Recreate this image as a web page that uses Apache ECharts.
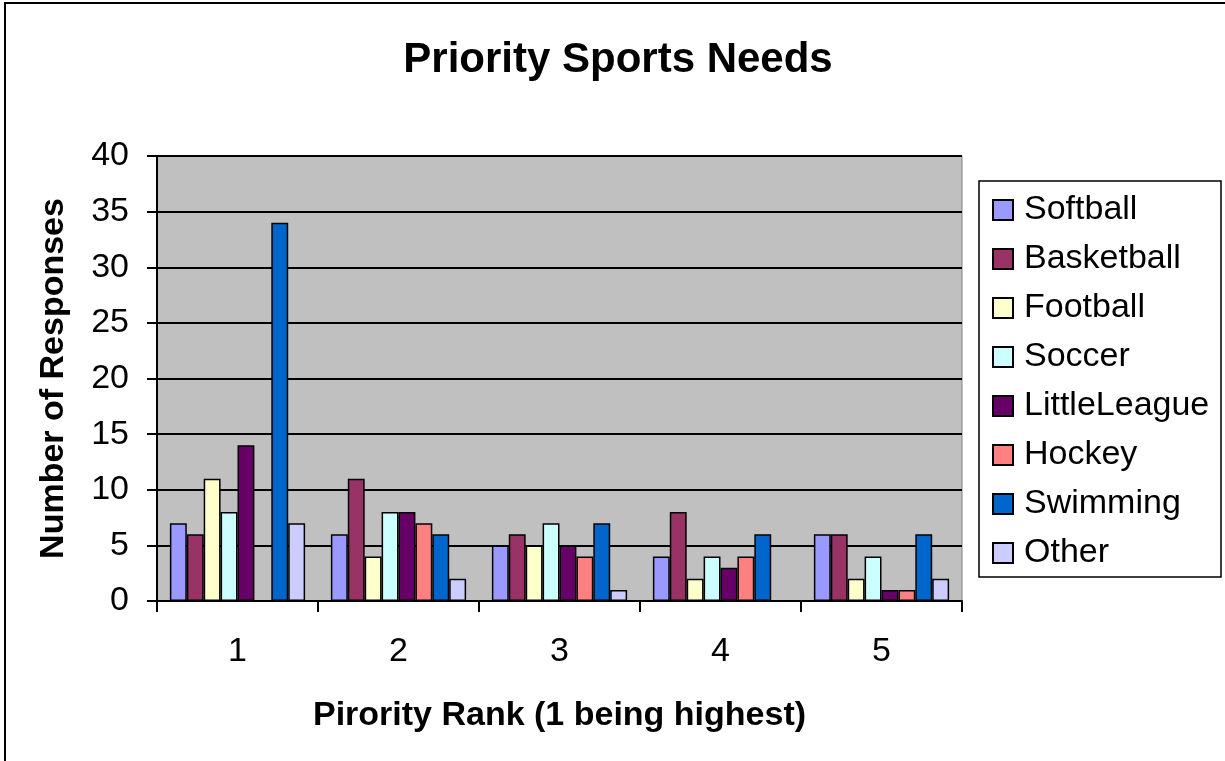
<!DOCTYPE html>
<html>
<head>
<meta charset="utf-8">
<script src="https://cdn.jsdelivr.net/npm/echarts@6/dist/echarts.min.js"></script>
<style>
html,body{margin:0;padding:0;background:#fff;}
#chart{width:1225px;height:761px;}
</style>
</head>
<body>
<div id="chart"></div>
<script>
var categories = ['1', '2', '3', '4', '5'];
var seriesNames = ['Softball', 'Basketball', 'Football', 'Soccer', 'LittleLeague', 'Hockey', 'Swimming', 'Other'];
var softball = [7, 6, 5, 4, 6];
var basketball = [6, 11, 6, 8, 6];
var football = [11, 4, 5, 2, 2];
var soccer = [8, 8, 7, 4, 4];
var littleLeague = [14, 8, 5, 3, 1];
var hockey = [0, 7, 4, 4, 1];
var swimming = [34, 6, 7, 6, 6];
var other = [7, 2, 1, 0, 2];
var colors = ['#9999FF', '#993366', '#FFFFCC', '#CCFFFF', '#660066', '#FF8080', '#0066CC', '#CCCCFF'];

var seriesData = [softball, basketball, football, soccer, littleLeague, hockey, swimming, other];
var FONT = '"Liberation Sans", Arial, sans-serif';

var chart = echarts.init(document.getElementById('chart'));
var series = seriesNames.map(function (name, i) {
  return {
    name: name,
    type: 'bar',
    data: seriesData[i],
    barGap: '0%',
    barCategoryGap: '16%',
    itemStyle: { color: colors[i], borderColor: '#000', borderWidth: 1.5 },
    emphasis: { disabled: true }
  };
});

chart.setOption({
  animation: false,
  backgroundColor: '#fff',
  title: {
    text: 'Priority Sports Needs',
    left: 613,
    textAlign: 'center',
    top: 34,
    textStyle: { fontFamily: FONT, fontSize: 42, fontWeight: 'bold', color: '#000' }
  },
  graphic: [
    { type: 'rect', shape: { x: 5, y: 3, width: 1240, height: 780 }, style: { fill: 'none', stroke: '#000', lineWidth: 2 }, z: 100 },
    { type: 'rect', shape: { x: 979, y: 181, width: 242, height: 396 }, style: { fill: '#fff', stroke: '#000', lineWidth: 1.5 }, z: 0 }
  ],
  legend: {
    orient: 'vertical',
    left: 979,
    top: 181,
    padding: [12, 10, 8, 13],
    itemGap: 15,
    itemWidth: 20,
    itemHeight: 20,
    icon: 'rect',
    z: 10,
    textStyle: { fontFamily: FONT, fontSize: 34, color: '#000', lineHeight: 34, padding: [0, 0, 0, 6] },
    data: seriesNames
  },
  grid: {
    left: 157, right: 263, top: 156, bottom: 160,
    show: true, backgroundColor: '#C0C0C0', borderColor: '#808080', borderWidth: 1,
    containLabel: false
  },
  xAxis: {
    type: 'category',
    data: categories,
    name: 'Pirority Rank (1 being highest)',
    nameLocation: 'middle',
    nameGap: 98,
    nameTextStyle: { fontFamily: FONT, fontSize: 34, fontWeight: 'bold', color: '#000' },
    axisLine: { lineStyle: { color: '#000', width: 2 } },
    axisTick: { show: true, alignWithLabel: false, length: 11, lineStyle: { color: '#000', width: 2 } },
    axisLabel: { fontFamily: FONT, fontSize: 34, color: '#000', margin: 34 },
    splitLine: { show: false }
  },
  yAxis: {
    type: 'value',
    min: 0, max: 40, interval: 5,
    name: 'Number of Responses',
    nameLocation: 'middle',
    nameGap: 86,
    nameTextStyle: { fontFamily: FONT, fontSize: 34, fontWeight: 'bold', color: '#000' },
    axisLine: { show: true, lineStyle: { color: '#000', width: 2 } },
    axisTick: { show: true, length: 10, lineStyle: { color: '#000', width: 2 } },
    axisLabel: { fontFamily: FONT, fontSize: 34, color: '#000', margin: 28 },
    splitLine: { show: true, lineStyle: { color: '#000', width: 2 } }
  },
  series: series
});
</script>
</body>
</html>
